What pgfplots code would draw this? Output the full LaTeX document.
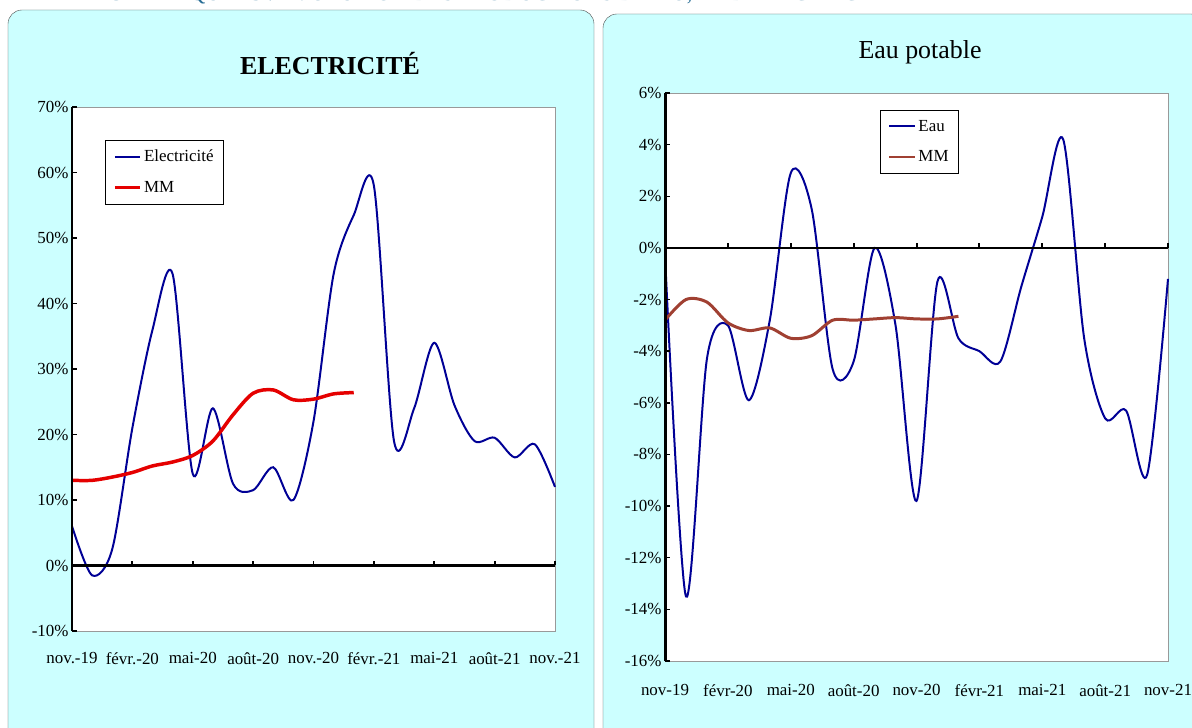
\documentclass[border=0pt]{standalone}
\usepackage{pgfplots}
\pgfplotsset{compat=1.18}
\usepackage{fontspec}
\setmainfont{Liberation Serif}
\definecolor{panel}{RGB}{204,255,255}
\definecolor{navy}{RGB}{0,0,150}
\definecolor{brownmm}{RGB}{160,64,50}
\definecolor{ttl}{RGB}{40,110,150}
\begin{document}
\begin{tikzpicture}
\clip (0bp,0bp) rectangle (1192bp,728bp);
\fill[white] (0bp,0bp) rectangle (1192bp,728bp);
\node[anchor=center,text=ttl,font=\fontsize{22}{24}\selectfont] at (500bp,733bp) {GRAPHIQUE 13 : EVOLUTION DES PRODUCTIONS D'EAU, ET D'ELECTRICITE};
\draw[rounded corners=14bp,fill=panel,draw=black!70] (8bp,-20bp) rectangle (594bp,718bp);
\draw[rounded corners=14bp,fill=panel,draw=black!70] (603bp,-20bp) rectangle (1205bp,714bp);
\node[font=\fontsize{26}{28}\selectfont\bfseries] at (330bp,664bp) {ELECTRICITÉ};
\node[font=\fontsize{26}{28}\selectfont] at (920bp,676bp) {Eau potable};
\pgfplotsset{every axis/.style={scale only axis, clip=false, axis background/.style={fill=white}, axis line style={draw=black!40},
 xmin=0,xmax=24, xtick={0,3,...,24}, major tick length=0pt, tick label style={font=\fontsize{17}{19}\selectfont},
 /pgf/number format/assume math mode=true, yticklabel={\pgfmathprintnumber[fixed,precision=0]{\tick}\%},
 legend cell align=left, legend style={draw=black,fill=white,font=\fontsize{17}{19}\selectfont,row sep=14pt,inner sep=8pt},
 legend image post style={sharp plot}, legend image code/.code={\draw[#1] (0cm,0cm) -- (0.9cm,0cm);}}}
\begin{axis}[at={(72bp,97bp)},anchor=south west,width=483bp,height=524bp,ymin=-10,ymax=70,ytick={-10,0,...,70},
 xticklabels={nov.-19,févr.-20,mai-20,août-20,nov.-20,févr.-21,mai-21,août-21,nov.-21},
 xticklabel style={yshift=-18pt},
 legend style={at={(0.068,0.937)},anchor=north west}]
\addplot[navy,line width=2pt,smooth,tension=0.5] coordinates {(0,6)(1,-1.5)(2,2.5)(3,21)(4,36)(5,44.5)(6,14)(7,24)(8,12.5)(9,11.5)(10,15)(11,10)(12,22)(13,44.5)(14,53.5)(15,58)(16,19)(17,24)(18,34)(19,24.5)(20,19)(21,19.5)(22,16.5)(23,18.5)(24,12)};
\addlegendentry{Electricité}
\addplot[red!90!black,line width=3.5pt,smooth,tension=0.5] coordinates {(0,13)(1,13)(2,13.5)(3,14.2)(4,15.2)(5,15.8)(6,16.8)(7,19)(8,23)(9,26.3)(10,26.8)(11,25.3)(12,25.4)(13,26.2)(14,26.4)};
\addlegendentry{MM}
\draw[line width=2.5pt] (axis cs:0,0)--(axis cs:24,0);
\pgfplotsinvokeforeach{3,6,...,24}{\draw[line width=2pt] (axis cs:#1,0)--([yshift=5pt]axis cs:#1,0);}
\draw[line width=3pt] (axis cs:0,-10)--(axis cs:0,70);
\pgfplotsinvokeforeach{-10,0,...,70}{\draw[line width=1.5pt] (axis cs:0,#1)--([xshift=5pt]axis cs:0,#1);}
\end{axis}
\begin{axis}[at={(665bp,67bp)},anchor=south west,width=503bp,height=568bp,ymin=-16,ymax=6,ytick={-16,-14,...,6},
 xticklabels={nov-19,févr-20,mai-20,août-20,nov-20,févr-21,mai-21,août-21,nov-21},
 xticklabel style={yshift=-20pt},
 legend style={at={(0.427,0.97)},anchor=north west}]
\addplot[navy,line width=2pt,smooth,tension=0.5] coordinates {(0,-0.3)(1,-13.5)(2,-4.3)(3,-3)(4,-5.9)(5,-2.8)(6,2.9)(7,1.5)(8,-4.7)(9,-4.4)(10,0)(11,-3)(12,-9.8)(13,-1.3)(14,-3.5)(15,-4)(16,-4.4)(17,-1.5)(18,1.2)(19,4.2)(20,-3.5)(21,-6.6)(22,-6.3)(23,-8.8)(24,-1.2)};
\addlegendentry{Eau}
\addplot[brownmm,line width=3pt,smooth,tension=0.5] coordinates {(0,-2.8)(1,-2.0)(2,-2.1)(3,-2.9)(4,-3.2)(5,-3.1)(6,-3.5)(7,-3.4)(8,-2.8)(9,-2.8)(10,-2.75)(11,-2.7)(12,-2.75)(13,-2.75)(14,-2.65)};
\addlegendentry{MM}
\draw[line width=2.5pt] (axis cs:0,0)--(axis cs:24,0);
\pgfplotsinvokeforeach{3,6,...,24}{\draw[line width=2pt] (axis cs:#1,0)--([yshift=5pt]axis cs:#1,0);}
\draw[line width=3pt] (axis cs:0,-16)--(axis cs:0,6);
\pgfplotsinvokeforeach{-16,-14,...,6}{\draw[line width=1.5pt] (axis cs:0,#1)--([xshift=5pt]axis cs:0,#1);}
\end{axis}
\end{tikzpicture}
\end{document}
